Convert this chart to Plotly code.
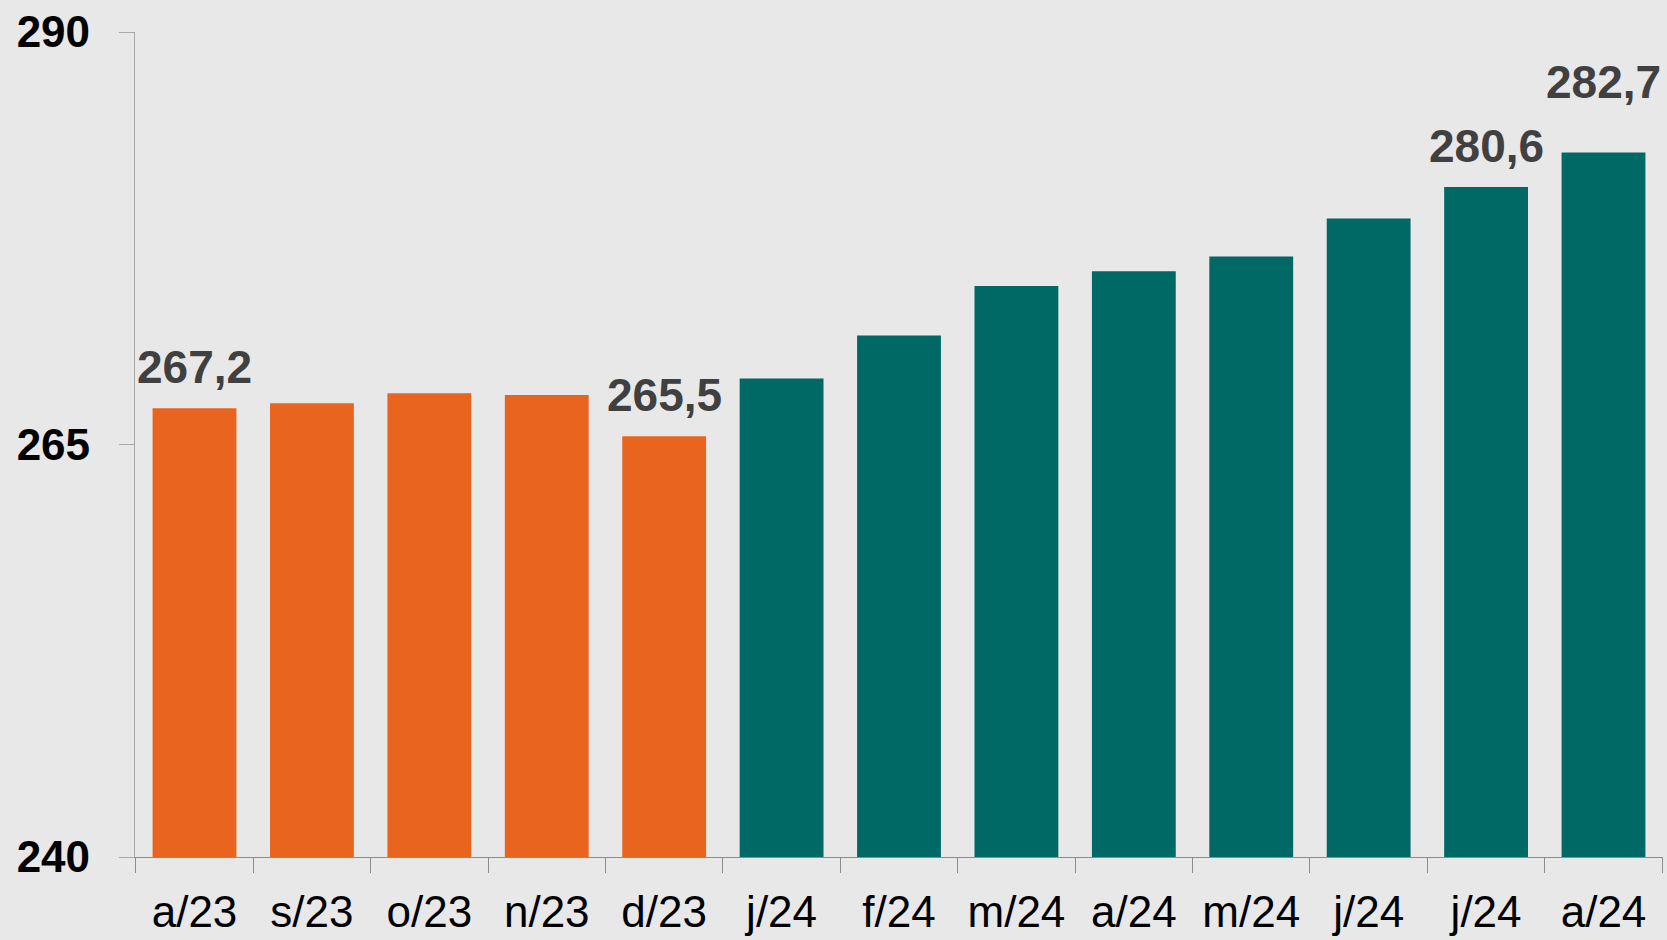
import plotly.graph_objects as go

# Monthly index values, Aug/2023 – Aug/2024
months = ["a/23", "s/23", "o/23", "n/23", "d/23", "j/24", "f/24",
          "m/24", "a/24", "m/24", "j/24", "j/24", "a/24"]
values = [267.2, 267.5, 268.1, 268.0, 265.5, 269.0, 271.6,
          274.6, 275.5, 276.4, 278.7, 280.6, 282.7]
# 2023 months in orange, 2024 months in teal
year = [2023] * 5 + [2024] * 8
# Which bars carry a value label, and extra lift for crowded labels
labelled = [0, 4, 11, 12]
label_lift = {0: 0, 4: 0, 11: 0, 12: 29}

ORANGE = "#E9641E"
TEAL = "#006865"
BG = "#E8E8E8"
FONT = "Liberation Sans, Arial, sans-serif"

positions = list(range(len(months)))
colors = [ORANGE if y == 2023 else TEAL for y in year]

fig = go.Figure(
    go.Bar(
        x=positions,
        y=values,
        marker=dict(color=colors, line=dict(width=0)),
        base=0,
        hoverinfo="skip",
    )
)

def fmt(v):
    return f"{v:.1f}".replace(".", ",")

for i in labelled:
    fig.add_annotation(
        x=positions[i], y=values[i],
        text=f"<b>{fmt(values[i])}</b>",
        showarrow=False,
        yanchor="bottom",
        yshift=13 + label_lift[i],
        font=dict(family=FONT, size=46, color="#404040"),
    )

fig.update_layout(
    width=1667, height=940,
    margin=dict(l=135, r=4, t=32, b=83),
    paper_bgcolor=BG,
    plot_bgcolor=BG,
    bargap=0.286,
    showlegend=False,
    font=dict(family=FONT, color="black"),
)

fig.update_xaxes(
    type="category",
    tickmode="array",
    tickvals=positions,
    ticktext=months,
    tickson="boundaries",
    ticks="outside",
    ticklen=15,
    tickwidth=1.3,
    tickcolor="#8C8C8C",
    showline=True,
    linecolor="#8C8C8C",
    linewidth=1.3,
    showgrid=False,
    zeroline=False,
    tickfont=dict(family=FONT, size=44, color="black"),
    ticklabelstandoff=16,
    automargin=False,
)

fig.update_yaxes(
    range=[240, 290],
    tickmode="array",
    tickvals=[240, 265, 290],
    ticktext=["<b>240</b>", "<b>265</b>", "<b>290</b>"],
    ticks="outside",
    ticklen=15,
    tickwidth=1.3,
    tickcolor="#AAAAAA",
    showline=True,
    linecolor="#AAAAAA",
    linewidth=1.3,
    showgrid=False,
    zeroline=False,
    tickfont=dict(family=FONT, size=44, color="black"),
    ticklabelstandoff=20,
    automargin=False,
)

fig.write_html("out.html")
